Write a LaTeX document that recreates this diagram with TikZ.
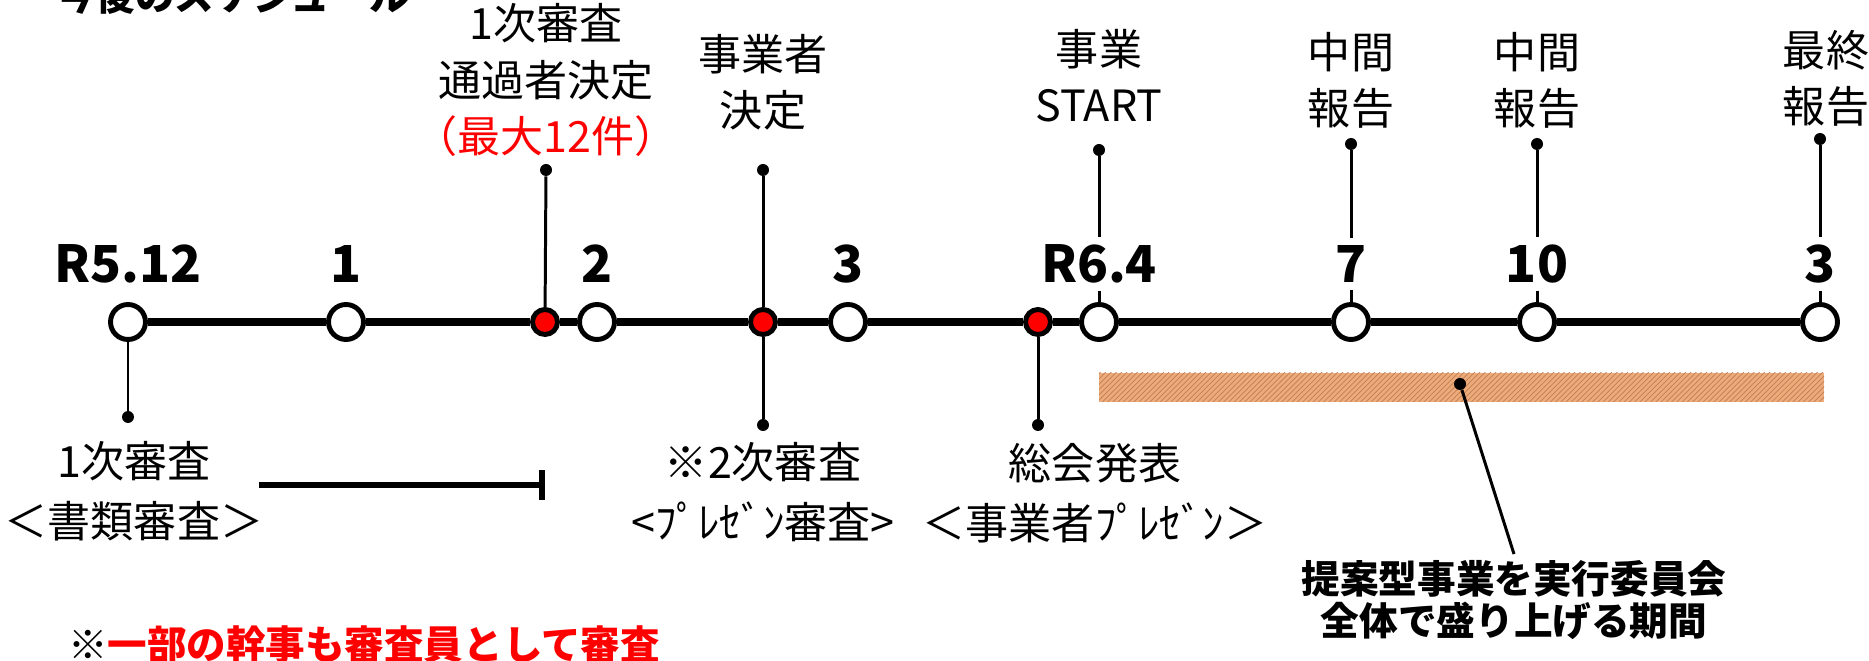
\documentclass[tikz,border=0pt]{standalone}
\usepackage{fontspec}
\setmainfont{Noto Sans CJK JP}
\usetikzlibrary{arrows.meta}
\usetikzlibrary{patterns}
\tikzset{>=latex}
\definecolor{bandbg}{RGB}{236,172,122}
\definecolor{bandfg}{RGB}{196,124,86}
\tikzset{
    month/.style={circle, draw, fill=white, line width=2.8pt, minimum size=0.7cm, inner sep=0pt},
    event/.style={circle, draw, fill=red, line width=2.8pt, minimum size=0.5cm, inner sep=0pt},
    pin/.style={circle, fill, inner sep=0pt, minimum size=0.24cm},
    stick/.style={line width=1.7pt},
    datelbl/.style={font=\fontsize{29}{29}\selectfont\bfseries, inner sep=4pt},
    note/.style={align=center, font=\fontsize{24.5}{32}\selectfont},
    lownote/.style={align=center, font=\fontsize{24.5}{34}\selectfont},
    boldnote/.style={font=\fontsize{22.5}{24}\selectfont\bfseries},
}

\begin{document}
\begin{tikzpicture}[x=0.02cm, y=-0.02cm]
    \useasboundingbox (0, 0) rectangle (1869, 661);
    \clip (0, 0) rectangle (1869, 661);
    \node[boldnote, anchor=base west] (title) at (50, 11) {今後のスケジュール};

    % timeline
    \node[month] (m512) at (128, 322) {};
    \node[month] (m1) at (346, 322) {};
    \node[event] (e1) at (545, 322) {};
    \node[month] (m2) at (597, 322) {};
    \node[event] (e2) at (763, 322) {};
    \node[month] (m3) at (848, 322) {};
    \node[event] (e3) at (1038, 322) {};
    \node[month] (m64) at (1099, 322) {};
    \node[month] (m7) at (1351, 322) {};
    \node[month] (m10) at (1537, 322) {};
    \node[month] (m3b) at (1820, 322) {};
    \draw[line width=4pt] (m512) -- (m1) -- (e1) -- (m2) -- (e2) -- (m3) -- (e3)
        -- (m64) -- (m7) -- (m10) -- (m3b);

    \node[datelbl] (n512) at (128, 264) {R5.12};
    \node[datelbl] (n1) at (346, 264) {1};
    \node[datelbl] (n2) at (597, 264) {2};
    \node[datelbl] (n3) at (848, 264) {3};
    \node[datelbl] (n64) at (1099, 264) {R6.4};
    \node[datelbl] (n7) at (1351, 264) {7};
    \node[datelbl] (n10) at (1537, 264) {10};
    \node[datelbl] (n3b) at (1820, 264) {3};

    % above the line
    \node[note] (ta) at (546, 80) {1次審査\\通過者決定\\\textcolor{red}{（最大12件）}};
    \node[pin] (pa) at (546, 170) {};
    \draw[stick] (pa) -- (e1);
    \node[note] (tb) at (763, 82) {事業者\\決定};
    \node[pin] (pb) at (763, 170) {};
    \node[note] (tc) at (1099, 76) {事業\\START};
    \node[pin] (pc) at (1099, 150) {};
    \draw[stick] (pc) -- (n64) -- (m64);
    \node[note] (td) at (1351, 80) {中間\\報告};
    \node[pin] (pd) at (1351, 144) {};
    \draw[stick] (pd) -- (n7) -- (m7);
    \node[note] (te) at (1537, 80) {中間\\報告};
    \node[pin] (pe) at (1537, 144) {};
    \draw[stick] (pe) -- (n10) -- (m10);
    \node[note] (tf) at (1826, 78) {最終\\報告};
    \node[pin] (pf) at (1820, 139) {};
    \draw[stick] (pf) -- (n3b) -- (m3b);

    % below the line
    \node[pin] (q512) at (128, 417) {};
    \draw[stick] (m512) -- (q512);
    \node[lownote] (b512) at (134, 491) {1次審査\\＜書類審査＞};
    \coordinate (ws) at (259, 485);
    \coordinate (we) at (545, 485);
    \draw[line width=3.6pt, -{Bar[width=17pt]}] (ws) -- (we);
    \node[pin] (q2) at (763, 425) {};
    \draw[stick] (pb) -- (e2) -- (q2);
    \node[lownote] (b2) at (763, 492) {※2次審査\\<ﾌﾟﾚｾﾞﾝ審査>};
    \node[pin] (q3) at (1038, 425) {};
    \draw[stick] (e3) -- (q3);
    \node[lownote] (b3) at (1095, 493) {総会発表\\＜事業者ﾌﾟﾚｾﾞﾝ＞};

    % period band
    \fill[bandbg] (1099, 373) rectangle (1824, 402);
    \fill[pattern=north east lines, pattern color=bandfg] (1099, 373) rectangle (1824, 402);
    \node[pin] (pg) at (1460, 384) {};
    \node[boldnote, font=\fontsize{22}{24}\selectfont\bfseries, align=center] (call) at (1514, 600)
        {提案型事業を実行委員会\\全体で盛り上げる期間};
    \draw[stick] (pg) -- (call.north);

    \node[boldnote, anchor=base west] (foot) at (62, 660) {※\textcolor{red}{一部の幹事も審査員として審査}};
\end{tikzpicture}
\end{document}
